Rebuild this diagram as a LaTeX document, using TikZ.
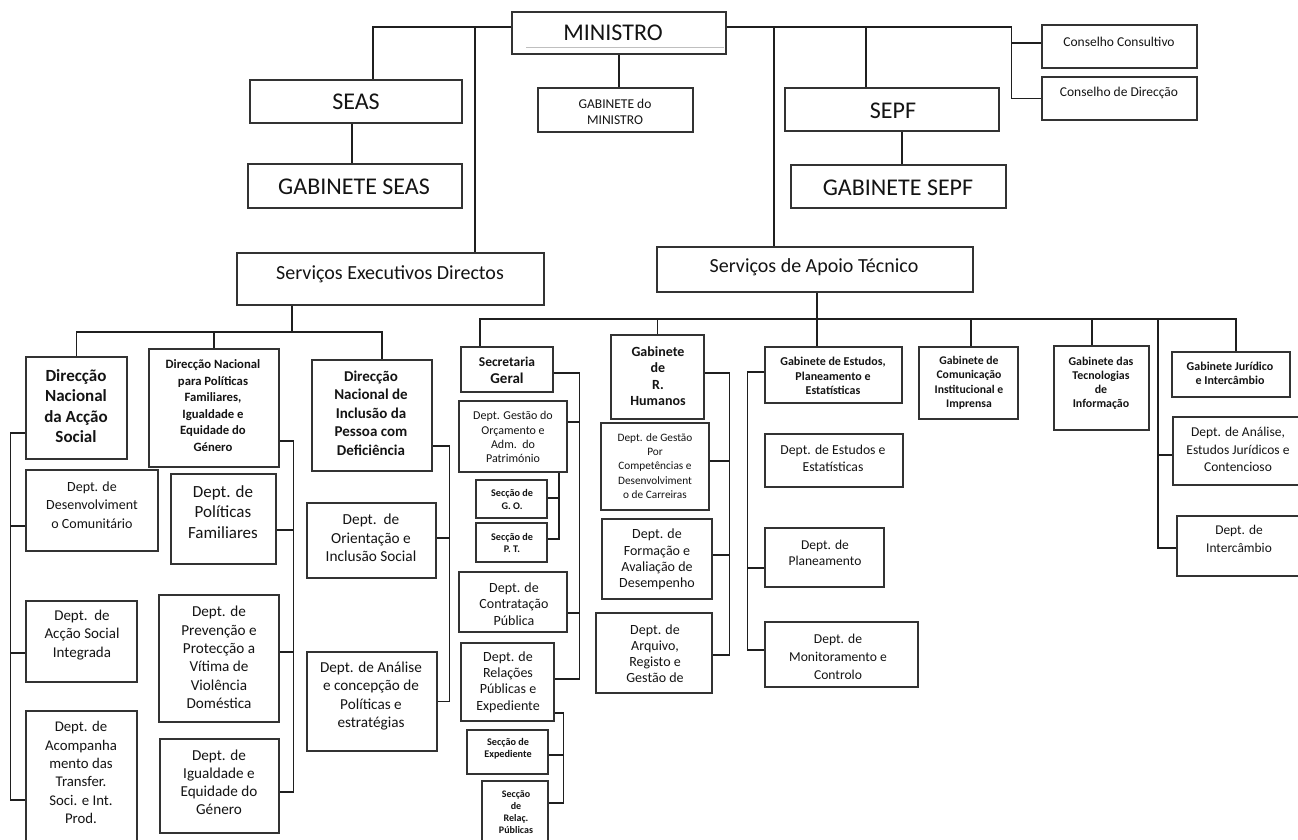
\documentclass[tikz,border=0pt]{standalone}
\usepackage{fontspec}
\setmainfont{Carlito}
\newcommand\fsz[2]{\fontsize{#1}{#2}\selectfont}
\newcommand\bx[5]{\node[box, minimum width={#4-#2}, minimum height={#5-#3}] (#1) at ({(#2+#4)/2},{(#3+#5)/2}) {};}
\tikzset{
  box/.style={draw=black!80, line width=1.2pt, inner sep=0pt, fill=white},
  conn/.style={draw=black!88, line width=1.7pt},
  txt/.style={align=center, inner sep=0pt, text=black!92},
}
\begin{document}
\begin{tikzpicture}[x=1pt,y=-1pt]
\fill[white] (0,0) rectangle (1298,840);
\useasboundingbox (0,0) rectangle (1298,840);

% ---------- top level ----------
\bx{min}{512}{12}{726}{54}
\node[txt,font={\fsz{24}{28}}] (min-t) at (613,33) {MINISTRO};
\draw[black!25, line width=0.8pt] ([xshift=15pt,yshift=-14pt]min.west) -- ([xshift=-3pt,yshift=-14pt]min.east);
\bx{gmin}{538}{88}{693}{132}
\node[txt,font={\fsz{13.5}{16.5}}] (gmin-t) at (615,112) {GABINETE do\\MINISTRO};
\bx{seas}{250}{80}{462}{123}
\node[txt,font={\fsz{24}{28}}] (seas-t) at (356,102) {SEAS};
\bx{gseas}{248}{164}{462}{208}
\node[txt,font={\fsz{24}{28}}] (gseas-t) at (354,187) {GABINETE SEAS};
\bx{sepf}{785}{88}{999}{131}
\node[txt,font={\fsz{24}{28}}] (sepf-t) at (893,111) {SEPF};
\bx{gsepf}{791}{165}{1006}{208}
\node[txt,font={\fsz{24}{28}}] (gsepf-t) at (898,188) {GABINETE SEPF};
\bx{ccons}{1042}{25}{1197}{68}
\node[txt,font={\fsz{13.5}{16}}] (ccons-t) at (1119,42) {Conselho Consultivo};
\bx{cdir}{1042}{77}{1197}{120}
\node[txt,font={\fsz{13.5}{16}}] (cdir-t) at (1119,93) {Conselho de Direcção};
\bx{sed}{237}{253}{544}{305}
\node[txt,font={\fsz{20}{24}}] (sed-t) at (390,274) {Serviços Executivos Directos};
\bx{sat}{657}{247}{973}{292}
\node[txt,font={\fsz{20}{24}}] (sat-t) at (814,267) {Serviços de Apoio Técnico};

\draw[conn] ([yshift=6pt]min.west) -| ([xshift=17pt]seas.north);
\draw[conn] ([yshift=6pt]min.west) -| ([xshift=84.5pt]sed.north);
\draw[conn] (min.south) -- (min.south |- gmin.north);
\draw[conn] ([yshift=6pt]min.east) -| ([xshift=-41pt]sat.north);
\draw[conn] ([yshift=6pt]min.east) -| ([xshift=-26pt]sepf.north);
\draw[conn] ([yshift=6pt]min.east) -| ([xshift=-30pt]cdir.west) -- (cdir.west);
\draw[conn] ([xshift=-30pt,yshift=3.5pt]ccons.west) -- ([yshift=3.5pt]ccons.west);
\draw[conn] ([xshift=-4pt]seas.south) -- ([xshift=-4pt]seas.south |- gseas.north);
\draw[conn] ([xshift=10pt]sepf.south) -- ([xshift=10pt]sepf.south |- gsepf.north);

% ---------- Servicos Executivos Directos ----------
\bx{dnas}{26}{357}{127}{459}
\node[txt,font={\bfseries\fsz{17}{20.5}}] (dnas-t) at (76,406) {Direcção\\Nacional\\da Acção\\Social};
\bx{dnpf}{149}{349}{279}{467}
\node[txt,font={\bfseries\fsz{12.7}{16.5}}] (dnpf-t) at (213,405.5) {Direcção Nacional\\para Políticas\\Familiares,\\Igualdade e\\Equidade do\\Género};
\bx{dnipd}{312}{360}{432}{471}
\node[txt,font={\bfseries\fsz{15}{18.5}}] (dnipd-t) at (371,413) {Direcção\\Nacional de\\Inclusão da\\Pessoa com\\Deficiência};
\coordinate (bus1) at (292,332);
\draw[conn] ([xshift=-98.5pt]sed.south) -- (bus1);
\draw[conn] (dnas.north) |- (bus1);
\draw[conn] (dnpf.north) |- (bus1);
\draw[conn] ([xshift=10pt]dnipd.north) |- (bus1);

\bx{ddc}{26}{470}{158}{551}
\node[txt,font={\fsz{14}{18.3}}] (ddc-t) at (92,505) {Dept. de\\Desenvolviment\\o Comunitário};
\bx{dasi}{26}{601}{137}{682}
\node[txt,font={\fsz{15}{18.3}}] (dasi-t) at (82,635) {Dept.\ \ de\\Acção Social\\Integrada};
\bx{dat}{26}{711}{137}{846}
\node[txt,font={\fsz{14.8}{18.3}}] (dat-t) at (81,772.5) {Dept. de\\Acompanha\\mento das\\Transfer.\\Soci. e Int.\\Prod.};
\draw[conn] ([yshift=-25pt]dnas.west) -| ([xshift=-15pt,yshift=-21.5pt]dat.west) -- ([yshift=-21.5pt]dat.west);
\draw[conn] ([yshift=-15.5pt]ddc.west) -- ([xshift=-15pt,yshift=-15.5pt]ddc.west);
\draw[conn] ([yshift=-11.5pt]dasi.west) -- ([xshift=-15pt,yshift=-11.5pt]dasi.west);

\bx{dpf}{171}{474}{276}{564}
\node[txt,font={\fsz{17}{20.5}}] (dpf-t) at (223,512) {Dept. de\\Políticas\\Familiares};
\bx{dpp}{159}{595}{279}{722}
\node[txt,font={\fsz{15.2}{18.3}}] (dpp-t) at (219,657.5) {Dept. de\\Prevenção e\\Protecção a\\Vítima de\\Violência\\Doméstica};
\bx{dig}{160}{739}{279}{833}
\node[txt,font={\fsz{15.2}{18}}] (dig-t) at (219,782) {Dept. de\\Igualdade e\\Equidade do\\Género};
\draw[conn] ([yshift=-33pt]dnpf.east) -| ([xshift=14pt,yshift=-6pt]dig.east) -- ([yshift=-6pt]dig.east);
\draw[conn] ([yshift=-11pt]dpf.east) -- ([xshift=17pt,yshift=-11pt]dpf.east);
\draw[conn] ([yshift=6.5pt]dpp.east) -- ([xshift=14pt,yshift=6.5pt]dpp.east);

\bx{dois}{307}{503}{436}{578}
\node[txt,font={\fsz{15.3}{18.3}}] (dois-t) at (371,538) {Dept.\ \ de\\Orientação e\\Inclusão Social};
\bx{dacp}{307}{652}{437}{751}
\node[txt,font={\fsz{15.2}{18.3}}] (dacp-t) at (371,696) {Dept. de Análise\\e concepção de\\Políticas e\\estratégias};
\draw[conn] ([yshift=-30.5pt]dnipd.east) -| ([xshift=12pt]dacp.east) -- (dacp.east);
\draw[conn] ([yshift=2.5pt]dois.east) -- ([xshift=13pt,yshift=2.5pt]dois.east);

% ---------- Servicos de Apoio Tecnico ----------
\bx{sg}{461}{347}{553}{392}
\node[txt,font={\bfseries\fsz{13.5}{17.3}}] (sg-t) at (507,370) {Secretaria\\{\fsz{15}{17.3}Geral}};
\bx{dgo}{459}{401}{567}{472}
\node[txt,font={\fsz{12}{14.2}}] (dgo-t) at (513,437) {Dept. Gestão do\\Orçamento e\\Adm.\ \ do\\Património};
\bx{sgo}{476}{480}{547}{518}
\node[txt,font={\bfseries\fsz{10.2}{12.3}}] (sgo-t) at (512,499.5) {Secção de\\G. O.};
\bx{spt}{476}{523}{547}{562}
\node[txt,font={\bfseries\fsz{10.2}{12.3}}] (spt-t) at (512,543) {Secção de\\P. T.};
\bx{dcp}{459}{572}{567}{632}
\node[txt,font={\fsz{14}{16.5}}] (dcp-t) at (514,604) {Dept. de\\Contratação\\Pública};
\bx{drp}{461}{643}{554}{721}
\node[txt,font={\fsz{14}{16.3}}] (drp-t) at (508,682) {Dept. de\\Relações\\Públicas e\\Expediente};
\bx{sexp}{467}{730}{548}{774}
\node[txt,font={\bfseries\fsz{10.2}{11.7}}] (sexp-t) at (508,749) {Secção de\\Expediente};
\bx{srel}{482}{781}{548}{846}
\node[txt,font={\bfseries\fsz{10}{12.2}}] (srel-t) at (516,812) {Secção\\de\\Relaç.\\Públicas};
\draw[conn] ([yshift=-3.5pt]sg.east) -| ([xshift=25pt,yshift=3pt]drp.east) -- ([yshift=3pt]drp.east);
\draw[conn] ([yshift=14.5pt]dgo.east) -- ([xshift=12pt,yshift=14.5pt]dgo.east);
\draw[conn] ([yshift=-11pt]dcp.east) -- ([xshift=12pt,yshift=-11pt]dcp.east);
\draw[conn] ([xshift=46pt]dgo.south) |- ([yshift=3.5pt]spt.east);
\draw[conn] ([yshift=1pt]sgo.east) -- ([xshift=12pt,yshift=1pt]sgo.east);
\draw[conn] ([yshift=-31pt]drp.east) -| ([xshift=15pt,yshift=10.5pt]srel.east) -- ([yshift=10.5pt]srel.east);
\draw[conn] ([yshift=-3pt]sexp.east) -- ([xshift=15pt,yshift=-3pt]sexp.east);

\bx{grh}{611}{335}{704}{419}
\node[txt,font={\bfseries\fsz{14}{16.5}}] (grh-t) at (658,376) {Gabinete\\de\\R.\\Humanos};
\bx{dgc}{601}{423}{709}{510}
\node[txt,font={\fsz{11.3}{14.4}}] (dgc-t) at (655,466) {Dept. de Gestão\\Por\\Competências e\\Desenvolviment\\o de Carreiras};
\bx{dfa}{602}{519}{712}{599}
\node[txt,font={\fsz{14}{16.4}}] (dfa-t) at (657,559.5) {Dept. de\\Formação e\\Avaliação de\\Desempenho};
\bx{dar}{596}{613}{712}{693}
\node[txt,font={\fsz{14}{16.2}}] (dar-t) at (655,653.5) {Dept. de\\Arquivo,\\Registo e\\Gestão de};
\draw[conn] ([yshift=4pt]grh.east) -| ([xshift=17pt,yshift=-2pt]dar.east) -- ([yshift=-2pt]dar.east);
\draw[conn] ([yshift=5.5pt]dgc.east) -- ([xshift=20pt,yshift=5.5pt]dgc.east);
\draw[conn] ([yshift=4pt]dfa.east) -- ([xshift=17pt,yshift=4pt]dfa.east);

\bx{gest}{765}{347}{902}{403}
\node[txt,font={\bfseries\fsz{12}{14.7}}] (gest-t) at (833,376) {Gabinete de Estudos,\\Planeamento e\\Estatísticas};
\bx{dee}{765}{434}{903}{487}
\node[txt,font={\fsz{13.7}{16.7}}] (dee-t) at (833,458) {Dept. de Estudos e\\Estatísticas};
\bx{dpla}{765}{528}{884}{587}
\node[txt,font={\fsz{13.5}{16.7}}] (dpla-t) at (825,553) {Dept. de\\Planeamento};
\bx{dmon}{765}{622}{918}{687}
\node[txt,font={\fsz{13.6}{18.3}}] (dmon-t) at (838,656.7) {Dept. de\\Monitoramento e\\Controlo};
\draw[conn] ([yshift=3pt]gest.west) -| ([xshift=-17pt,yshift=4.5pt]dmon.west) -- ([yshift=4.5pt]dmon.west);
\draw[conn] ([yshift=-10.5pt]dpla.west) -- ([xshift=-17pt,yshift=-10.5pt]dpla.west);

\bx{gcom}{919}{347}{1018}{419}
\node[txt,font={\bfseries\fsz{11.7}{14.4}}] (gcom-t) at (969,383) {Gabinete de\\Comunicação\\Institucional e\\Imprensa};
\bx{gti}{1054}{346}{1149}{430}
\node[txt,font={\bfseries\fsz{11.9}{14.1}}] (gti-t) at (1101,383) {Gabinete das\\Tecnologias\\de\\Informação};
\bx{gjur}{1172}{352}{1290}{397}
\node[txt,font={\bfseries\fsz{12}{14}}] (gjur-t) at (1230,373) {Gabinete Jurídico\\e Intercâmbio};
\bx{danj}{1173}{417}{1302}{485}
\node[txt,font={\fsz{13.5}{17.8}}] (danj-t) at (1238,449.5) {Dept. de Análise,\\Estudos Jurídicos e\\Contencioso};
\bx{dint}{1177}{516}{1302}{576}
\node[txt,font={\fsz{13.4}{18.3}}] (dint-t) at (1239,539) {Dept. de\\Intercâmbio};

\coordinate (bus2) at (817,319);
\coordinate (jtop) at (1158,319);
\draw[conn] ([xshift=2pt]sat.south) -- ([xshift=-16.5pt]gest.north);
\draw[conn] ([xshift=-27pt]sg.north) |- (bus2) -| ([xshift=5pt]gjur.north);
\draw[conn] (grh.north) |- (bus2);
\draw[conn] ([xshift=2.5pt]gcom.north) |- (bus2);
\draw[conn] ([xshift=-9.5pt]gti.north) |- (bus2);
\draw[conn] ([yshift=-2pt]dint.west) -| (jtop);
\draw[conn] ([yshift=-4pt]danj.west) -- ([yshift=-4pt]danj.west -| jtop);
\end{tikzpicture}
\end{document}
